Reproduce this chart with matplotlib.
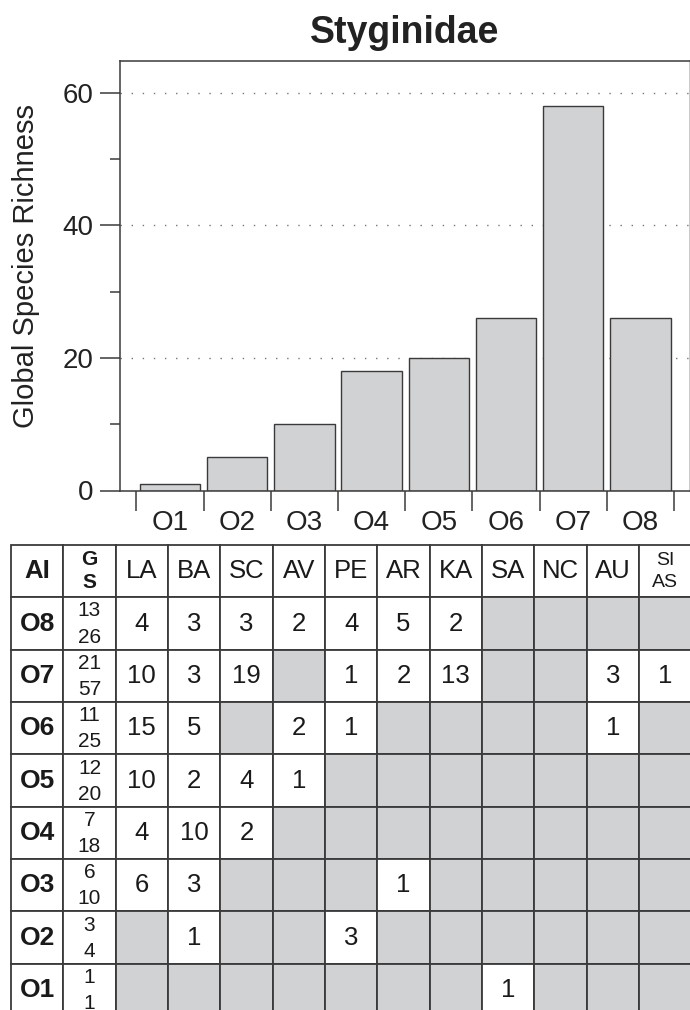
import matplotlib
matplotlib.use("Agg")
import matplotlib.pyplot as plt
from matplotlib.patches import Rectangle

plt.rcParams['font.family'] = ['Liberation Sans', 'DejaVu Sans']

# --- data ---
orders = ['O1', 'O2', 'O3', 'O4', 'O5', 'O6', 'O7', 'O8']
richness = [1, 5, 10, 18, 20, 26, 58, 26]

regions = ['LA', 'BA', 'SC', 'AV', 'PE', 'AR', 'KA', 'SA', 'NC', 'AU', 'SI\nAS']
row_orders = ['O8', 'O7', 'O6', 'O5', 'O4', 'O3', 'O2', 'O1']
genera = [13, 21, 11, 12, 7, 6, 3, 1]
species = [26, 57, 25, 20, 18, 10, 4, 1]
counts_o8 = [4, 3, 3, 2, 4, 5, 2, 0, 0, 0, 0]
counts_o7 = [10, 3, 19, 0, 1, 2, 13, 0, 0, 3, 1]
counts_o6 = [15, 5, 0, 2, 1, 0, 0, 0, 0, 1, 0]
counts_o5 = [10, 2, 4, 1, 0, 0, 0, 0, 0, 0, 0]
counts_o4 = [4, 10, 2, 0, 0, 0, 0, 0, 0, 0, 0]
counts_o3 = [6, 3, 0, 0, 0, 1, 0, 0, 0, 0, 0]
counts_o2 = [0, 1, 0, 0, 3, 0, 0, 0, 0, 0, 0]
counts_o1 = [0, 0, 0, 0, 0, 0, 0, 1, 0, 0, 0]
counts = [counts_o8, counts_o7, counts_o6, counts_o5,
          counts_o4, counts_o3, counts_o2, counts_o1]

GRAY = '#d1d2d4'
LINE = '#3a3a3a'
W, H = 690, 1010

fig = plt.figure(figsize=(W / 100, H / 100), dpi=100)

# --- bar chart (pixel box: x 120..689.5, y 61..490.5) ---
ax = fig.add_axes([120 / W, 1 - 490.5 / H, 569.5 / W, 429.5 / H])
xpos = list(range(1, len(orders) + 1))
for y in (20, 40, 60):
    ax.axhline(y, color='#777777', lw=1.0, linestyle=(0, (1, 7)), zorder=0)
ax.bar(xpos, richness, width=0.9, color=GRAY, edgecolor=LINE, linewidth=1.0, zorder=2)
ax.set_xlim(0.256, 8.73)
ax.set_ylim(0, 64.8)

for side in ['left', 'top', 'bottom', 'right']:
    ax.spines[side].set_color(LINE)
    ax.spines[side].set_linewidth(1.1)
ax.spines['right'].set_color('#bbbbbb')

ax.set_yticks([0, 20, 40, 60])
ax.set_yticks([10, 30, 50], minor=True)
ax.tick_params(axis='y', which='major', length=14.4, width=1.1, color=LINE,
               labelsize=20, pad=5, labelcolor='#222222')
ax.tick_params(axis='y', which='minor', length=7.2, width=1.1, color=LINE)

ax.set_xticks([i + 0.5 for i in range(0, len(orders) + 1)])
ax.set_xticklabels([])
ax.set_xticks(xpos, minor=True)
ax.set_xticklabels(orders, minor=True)
ax.tick_params(axis='x', which='major', length=14.4, width=1.1, color=LINE)
ax.tick_params(axis='x', which='minor', length=0, labelsize=20, pad=14,
               labelcolor='#222222')

fig.text(405 / W, 1 - 43 / H, 'Styginidae', ha='center', va='baseline',
         fontsize=27, fontweight='bold', color='#222222')
fig.text(26.5 / W, 1 - 266 / H, 'Global Species Richness', rotation=90,
         ha='center', va='center', fontsize=21, color='#222222')

# --- table (cell units) ---
cw, rh = 52.33, 52.35
ncols = 2 + len(regions)
nrows = 1 + len(row_orders)
tx = fig.add_axes([11 / W, 1 - (545 + nrows * rh) / H, ncols * cw / W, nrows * rh / H])
tx.set_xlim(0, ncols)
tx.set_ylim(nrows, 0)
tx.axis('off')

def cell(col, row, fill):
    tx.add_patch(Rectangle((col, row), 1, 1, facecolor=fill, edgecolor=LINE,
                           linewidth=1.3, clip_on=False))

TXT = '#1a1a1a'

# header
for c in range(ncols):
    cell(c, 0, 'white')
tx.text(0.5, 0.5, 'AI', ha='center', va='center', fontsize=18.5, fontweight='bold', color=TXT)
tx.text(1.5, 0.28, 'G', ha='center', va='center', fontsize=15, fontweight='bold', color=TXT)
tx.text(1.5, 0.72, 'S', ha='center', va='center', fontsize=15, fontweight='bold', color=TXT)
for j, reg in enumerate(regions):
    if '\n' in reg:
        top, bot = reg.split('\n')
        tx.text(j + 2.5, 0.3, top, ha='center', va='center', fontsize=14, color=TXT)
        tx.text(j + 2.5, 0.72, bot, ha='center', va='center', fontsize=14, color=TXT)
    else:
        tx.text(j + 2.5, 0.5, reg, ha='center', va='center', fontsize=18.5, color=TXT)

# body
for i, name in enumerate(row_orders):
    r = i + 1
    cell(0, r, 'white')
    cell(1, r, 'white')
    tx.text(0.5, r + 0.5, name, ha='center', va='center', fontsize=19,
            fontweight='bold', color=TXT)
    tx.text(1.5, r + 0.26, str(genera[i]), ha='center', va='center', fontsize=15, color=TXT)
    tx.text(1.5, r + 0.76, str(species[i]), ha='center', va='center', fontsize=15, color=TXT)
    for j, v in enumerate(counts[i]):
        cell(j + 2, r, 'white' if v else GRAY)
        if v:
            tx.text(j + 2.5, r + 0.5, str(v), ha='center', va='center',
                    fontsize=18.5, color=TXT)

fig.savefig('out.png', dpi=100)
